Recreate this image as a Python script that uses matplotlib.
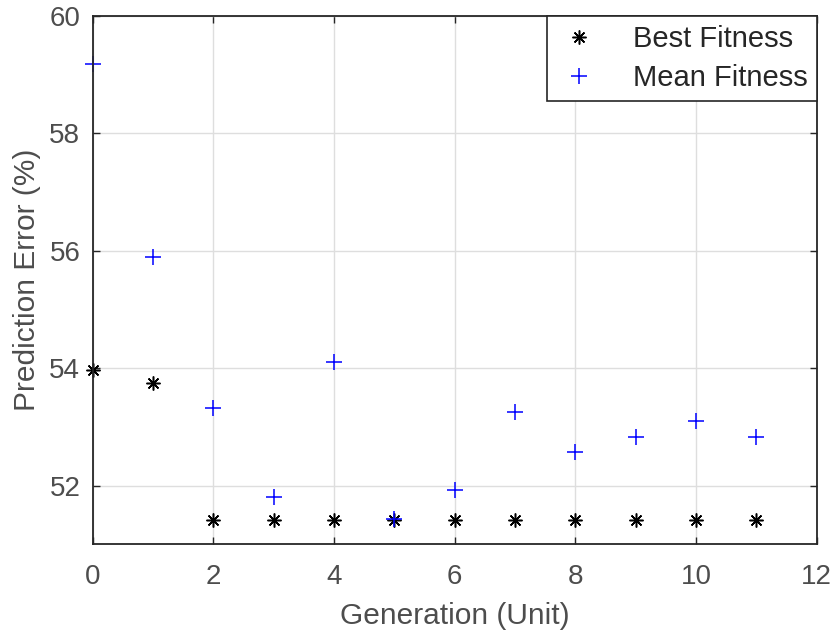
import matplotlib
matplotlib.use("Agg")
import matplotlib.pyplot as plt

plt.rcParams['font.family'] = ['Liberation Sans', 'DejaVu Sans']

generation = list(range(12))
best_fitness = [53.97, 53.75, 51.41, 51.41, 51.41, 51.41, 51.41, 51.41, 51.41, 51.41, 51.41, 51.41]
mean_fitness = [59.19, 55.90, 53.33, 51.80, 54.10, 51.44, 51.92, 53.26, 52.58, 52.83, 53.11, 52.83]
x_ticks = [0, 2, 4, 6, 8, 10, 12]
y_ticks = [52, 54, 56, 58, 60]

fig = plt.figure(figsize=(8.36, 6.39), dpi=100)
ax = fig.add_axes([0.111, 0.148, 0.866, 0.827])

txt = '#262626'
ax.plot(generation, best_fitness, linestyle='none', marker=(8, 2, 0), markersize=10,
        markeredgewidth=1.1, color='black', label='Best Fitness', clip_on=False)
ax.plot(generation, mean_fitness, linestyle='none', marker='+', markersize=12,
        markeredgewidth=1.1, color='#0000ff', label='Mean Fitness', clip_on=False)

ax.set_xlim(0, 12)
ax.set_ylim(51, 60)
ax.set_xticks(x_ticks)
ax.set_yticks(y_ticks)
ax.grid(True, color='#dedede', linewidth=1.0)
ax.set_axisbelow(True)
ax.tick_params(direction='in', top=True, right=True, length=5, width=1,
               labelsize=20, colors=txt, labelcolor='#4d4d4d')
ax.tick_params(axis='x', pad=14)
ax.tick_params(axis='y', pad=9)
for s in ax.spines.values():
    s.set_color(txt)
    s.set_linewidth(1.3)

ax.set_xlabel('Generation (Unit)', fontsize=21.5, color='#4d4d4d', labelpad=9)
ax.set_ylabel('Prediction Error (%)', fontsize=21.5, color='#4d4d4d', labelpad=6)

leg = ax.legend(loc='upper right', fontsize=21, frameon=True, fancybox=False,
                borderaxespad=0, handletextpad=1.1, borderpad=0.3, labelspacing=0.38,
                handlelength=1.55)
leg.get_frame().set_edgecolor(txt)
leg.get_frame().set_linewidth(1.2)
leg.get_frame().set_alpha(1)
for t in leg.get_texts():
    t.set_color(txt)

fig.savefig('out.png', dpi=100)
